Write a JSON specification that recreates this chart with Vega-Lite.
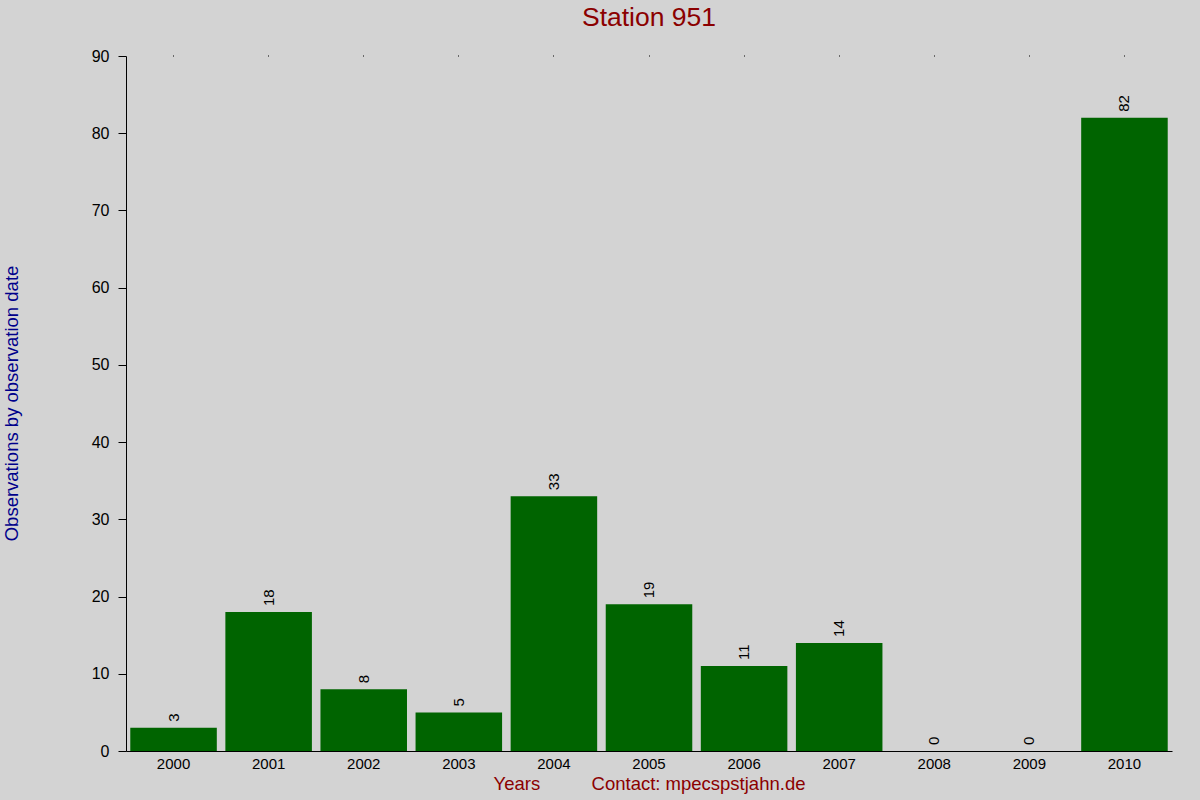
{
  "$schema": "https://vega.github.io/schema/vega-lite/v6.json",
  "autosize": "none",
  "width": 1046,
  "height": 695,
  "padding": {"left": 126, "top": 56, "right": 28, "bottom": 49},
  "background": "#d3d3d3",
  "title": {
    "text": "Station 951",
    "color": "#8b0000",
    "fontSize": 26.5,
    "font": "Liberation Sans",
    "fontWeight": "normal",
    "anchor": "middle",
    "offset": 17
  },
  "data": {
    "values": [
      {"year": "2000", "count": 3},
      {"year": "2001", "count": 18},
      {"year": "2002", "count": 8},
      {"year": "2003", "count": 5},
      {"year": "2004", "count": 33},
      {"year": "2005", "count": 19},
      {"year": "2006", "count": 11},
      {"year": "2007", "count": 14},
      {"year": "2008", "count": 0},
      {"year": "2009", "count": 0},
      {"year": "2010", "count": 82}
    ]
  },
  "layer": [
    {
      "mark": {"type": "bar", "color": "#006400"},
      "encoding": {
        "x": {
          "field": "year",
          "type": "nominal",
          "scale": {"paddingInner": 0.09, "paddingOuter": 0.045},
          "axis": {
            "title": "Years\u00a0\u00a0\u00a0\u00a0\u00a0\u00a0\u00a0\u00a0\u00a0\u00a0Contact: mpecspstjahn.de",
            "titleColor": "#8b0000",
            "titleFontSize": 18.5,
            "titleFont": "Liberation Sans",
            "titleFontWeight": "normal",
            "titlePadding": 3,
            "labelAngle": 0,
            "labelFontSize": 15,
            "labelFont": "Liberation Sans",
            "labelColor": "#000000",
            "labelPadding": 5,
            "ticks": false,
            "domainColor": "#000000",
            "grid": false
          }
        },
        "y": {
          "field": "count",
          "type": "quantitative",
          "scale": {"domain": [0, 90], "nice": false},
          "axis": {
            "title": "Observations by observation date",
            "titleColor": "#00008b",
            "titleFontSize": 18.5,
            "titleFont": "Liberation Sans",
            "titleFontWeight": "normal",
            "titleAngle": -90,
            "titleX": -115,
            "titleY": 347,
            "titleAlign": "center",
            "titleBaseline": "middle",
            "values": [0, 10, 20, 30, 40, 50, 60, 70, 80, 90],
            "labelFontSize": 16,
            "labelFont": "Liberation Sans",
            "labelColor": "#000000",
            "labelPadding": 9,
            "tickSize": 8,
            "tickColor": "#000000",
            "domainColor": "#000000",
            "grid": false
          }
        }
      }
    },
    {
      "mark": {
        "type": "text",
        "angle": 270,
        "align": "left",
        "baseline": "middle",
        "dx": 6,
        "fontSize": 15,
        "font": "Liberation Sans",
        "color": "#000000"
      },
      "encoding": {
        "x": {
          "field": "year",
          "type": "nominal",
          "axis": {
            "orient": "top",
            "title": null,
            "labels": false,
            "domain": false,
            "ticks": true,
            "tickSize": 1,
            "tickColor": "#000000",
            "grid": false
          }
        },
        "y": {"field": "count", "type": "quantitative"},
        "text": {"field": "count", "type": "quantitative"}
      }
    }
  ],
  "resolve": {"axis": {"x": "independent"}},
  "config": {"view": {"stroke": null}}
}
